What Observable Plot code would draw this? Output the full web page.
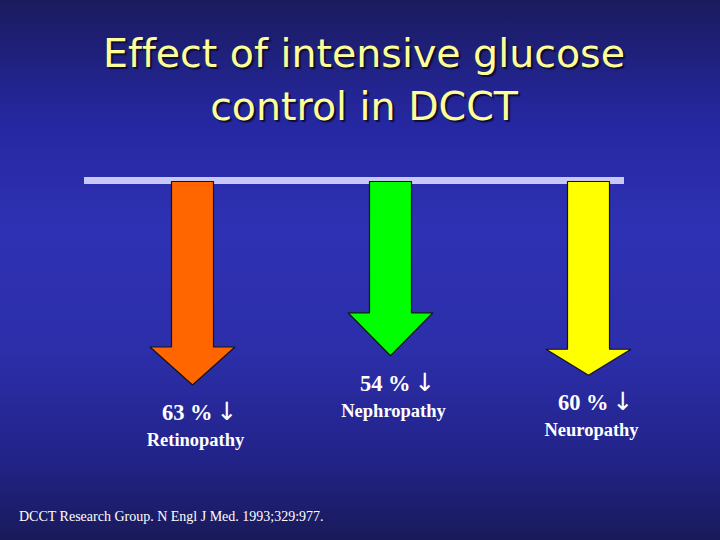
<!DOCTYPE html>
<html>
<head>
<meta charset="utf-8">
<script src="https://cdn.jsdelivr.net/npm/d3@7"></script>
<script src="https://cdn.jsdelivr.net/npm/@observablehq/plot@0.6"></script>
<style>
  html, body { margin: 0; padding: 0; }
  #slide {
    position: relative; width: 720px; height: 540px; overflow: hidden;
    background: linear-gradient(to bottom, #1a1b5e 0%, #2527a0 22%, #2e31b3 42%, #2c2eaa 65%, #222388 85%, #191a5a 100%);
  }
  #title {
    position: absolute; left: 4px; top: 27px; width: 720px; text-align: center;
    font-family: "DejaVu Sans", sans-serif; font-size: 39.5px; line-height: 53px;
    font-variant-ligatures: none; font-feature-settings: "liga" 0, "clig" 0;
    color: #ffff99; text-shadow: 2px 2px 1px #0e0e36;
  }
  #caption {
    position: absolute; left: 19px; top: 509px;
    font-family: "Liberation Serif", serif; font-size: 14px; color: #ffffff;
  }
  #chart { position: absolute; left: 0; top: 0; }
</style>
</head>
<body>
<div id="slide">
  <div id="title">Effect of intensive glucose<br>control in DCCT</div>
  <div id="chart"></div>
  <div id="caption">DCCT Research Group. N Engl J Med. 1993;329:977.</div>
</div>
<script>
// ---- data ----
const categories = ["Retinopathy", "Nephropathy", "Neuropathy"];
const reductions = [63, 54, 60]; // % reduction

// ---- style ----
const arrowFill = {Retinopathy: "#ff6600", Nephropathy: "#00ff00", Neuropathy: "#ffff00"};
const headLenPx = {Retinopathy: 38, Nephropathy: 43, Neuropathy: 26};
const shaftHalfPx = 21, headHalfPx = 42.5, shaftTopPx = 1;
const xRange = [192, 588], yRange = [180, 384.5];
const xDomain = [0, categories.length - 1], yDomain = [0, 63];
const pxPerX = (xRange[1] - xRange[0]) / (xDomain[1] - xDomain[0]);
const pxPerY = (yRange[1] - yRange[0]) / (yDomain[1] - yDomain[0]);

const rows = categories.map((name, i) => ({name, i, value: reductions[i]}));

function arrowPoints(r) {
  const sw = shaftHalfPx / pxPerX, hw = headHalfPx / pxPerX;
  const top = shaftTopPx / pxPerY, hs = r.value - headLenPx[r.name] / pxPerY;
  return [
    {x: r.i - sw, y: top}, {x: r.i + sw, y: top}, {x: r.i + sw, y: hs},
    {x: r.i + hw, y: hs}, {x: r.i, y: r.value}, {x: r.i - hw, y: hs},
    {x: r.i - sw, y: hs}, {x: r.i - sw, y: top}
  ];
}

const labelFont = {fill: "white", fontFamily: "Liberation Serif", fontWeight: "bold"};

const plot = Plot.plot({
  width: 720,
  height: 540,
  marginLeft: 84,
  marginRight: 96,
  marginTop: 0,
  marginBottom: 0,
  style: {background: "transparent", overflow: "visible"},
  x: {domain: xDomain, range: xRange, axis: null},
  y: {domain: yDomain, range: yRange, axis: null},
  marks: [
    Plot.ruleY([0], {stroke: "#c8c8f6", strokeWidth: 7}),
    ...rows.map(r => Plot.line(arrowPoints(r), {
      x: "x", y: "y", fill: arrowFill[r.name], stroke: "#141414",
      strokeWidth: 1.2, strokeLinejoin: "miter", curve: "linear"
    })),
    Plot.text(rows, {
      x: "i", y: "value", text: d => `${d.value} %`,
      dx: 20, dy: 35, lineAnchor: "bottom", textAnchor: "end",
      fontSize: 22.5, style: "letter-spacing: 2px", ...labelFont
    }),
    Plot.text(rows, {
      x: "i", y: "value", text: () => "\u2193",
      dx: 24, dy: 35, lineAnchor: "bottom", textAnchor: "start",
      fill: "white", fontFamily: "DejaVu Sans", fontSize: 25
    }),
    Plot.text(rows, {
      x: "i", y: "value", text: "name",
      dx: 3, dy: 61, lineAnchor: "bottom",
      fontSize: 18.5, style: "letter-spacing: 1.7px", ...labelFont
    })
  ]
});
document.getElementById("chart").appendChild(plot);
</script>
</body>
</html>
